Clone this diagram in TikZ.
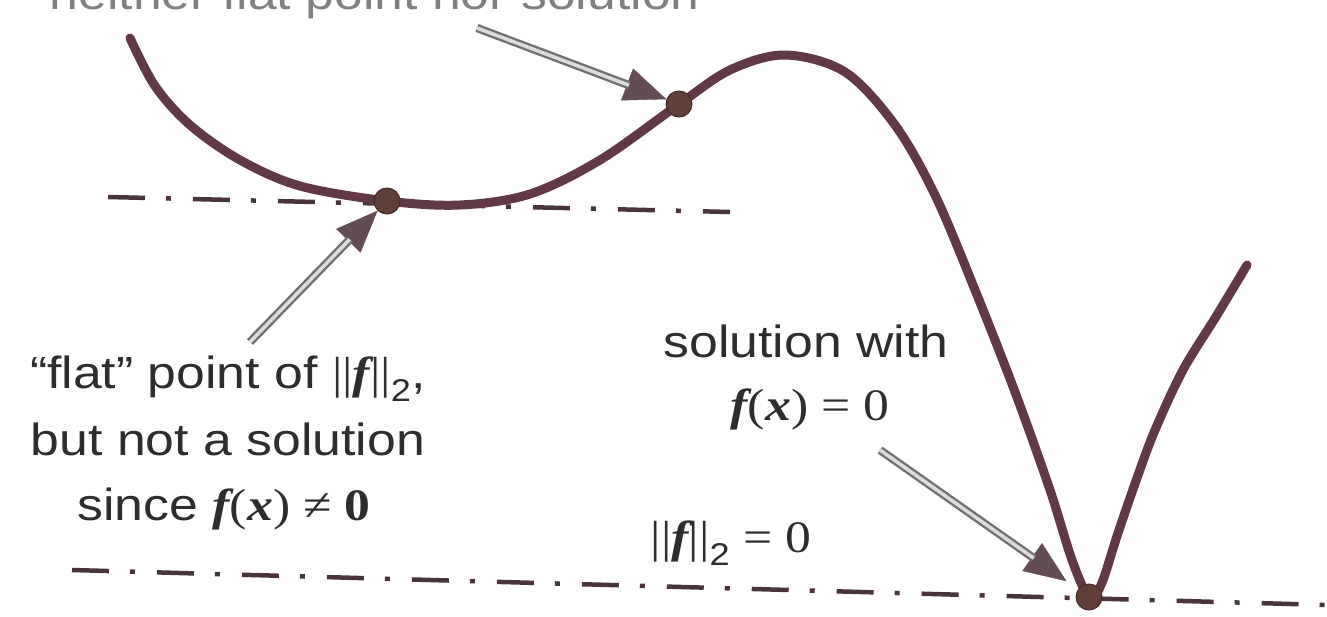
\documentclass[tikz,border=0pt]{standalone}
\usepackage{fontspec}
\usepackage{graphicx}
\setmainfont{Liberation Sans}
\newfontfamily\srf{Liberation Serif}
\usetikzlibrary{arrows.meta}
\definecolor{curvecol}{RGB}{98,56,68}
\definecolor{dotcol}{RGB}{98,62,56}
\definecolor{dashcol}{RGB}{72,52,58}
\definecolor{headcol}{RGB}{100,76,84}
\definecolor{shaftcol}{RGB}{115,112,115}
\definecolor{shaftin}{RGB}{222,220,222}
\definecolor{txtcol}{RGB}{45,45,45}
\newcommand{\bif}[1]{{\srf\bfseries\itshape #1}}
\newcommand{\sx}[1]{\scalebox{1.15}[1]{#1}}
\begin{document}
\begin{tikzpicture}[x=1pt,y=-1pt,
  fcurve/.style={draw=curvecol,line width=9pt,line cap=round,line join=round},
  refline/.style={draw=dashcol,line width=4.5pt,dash pattern=on 37pt off 21pt on 5pt off 22pt},
  ptdot/.style={circle,fill=dotcol,draw=dotcol!70!black,line width=1pt,minimum size=26pt,inner sep=0pt},
  headarrow/.style={draw=headcol,line width=0.4pt,-{Triangle[length=42pt,width=34pt,color=headcol]}},
  arrowshaft/.style={draw=shaftcol,double=shaftin,double distance=3.5pt,line width=2.4pt},
  lbl/.style={font=\fontsize{45}{52}\selectfont,text=txtcol,anchor=base,inner sep=0pt},
  ]
\useasboundingbox (0,0) rectangle (1327,616);

% reference lines
\coordinate (ua) at (108,197);
\coordinate (ub) at (730,212);
\coordinate (la) at (72,570);
\coordinate (lb) at (1327,605);
\draw[refline] (ua) -- (ub);
\draw[refline] (la) -- (lb);

% the curve
\draw[fcurve] plot[smooth,tension=0.55] coordinates {
  (130,38) (155,86) (190,125) (240,160) (300,186) (387,201) (460,205)
  (530,194) (600,160) (678,105) (730,70) (785,55) (845,72)
  (895,125) (935,195) (975,290) (1015,392) (1050,490) (1072,560)
  (1089,597) (1101,585) (1118,533) (1137,478) (1155,430) (1183,370)
  (1217,315) (1247,265)};

% points
\node[ptdot] (p1) at (387,201) {};
\node[ptdot] (p2) at (679,104) {};
\node[ptdot] (p3) at (1089,597) {};

% arrows
\coordinate (t1) at (250,342);
\coordinate (t2) at (477,28);
\coordinate (t3) at (880,450);
\draw[headarrow] (t1) -- (p1);
\draw[arrowshaft, shorten >=40pt] (t1) -- (p1);
\draw[headarrow] (t2) -- (p2);
\draw[arrowshaft, shorten >=40pt] (t2) -- (p2);
\draw[headarrow, shorten >=14pt] (t3) -- (p3);
\draw[arrowshaft, shorten >=54pt] (t3) -- (p3);

% labels
\node[lbl, anchor=base east, text=black!50] (top) at (700,9) {\sx{neither flat point nor solution}};
\node[lbl] (l1) at (228,388) {\sx{“flat” point of {\srf ||}\bif{f}{\srf ||}\textsubscript{2},}};
\node[lbl] (l2) at (228,455) {\sx{but not a solution}};
\node[lbl] (l3) at (224,520) {\sx{since \bif{f}{\srf(}\bif{x}{\srf) ≠ \bfseries 0}}};
\node[lbl] (s1) at (806,357) {\sx{solution with}};
\node[lbl] (s2) at (810,420) {\sx{\bif{f}{\srf(}\bif{x}{\srf) = 0}}};
\node[lbl] (n0) at (731,552) {\sx{{\srf ||}\bif{f}{\srf ||}\textsubscript{2}{\srf\ = 0}}};
\end{tikzpicture}
\end{document}
